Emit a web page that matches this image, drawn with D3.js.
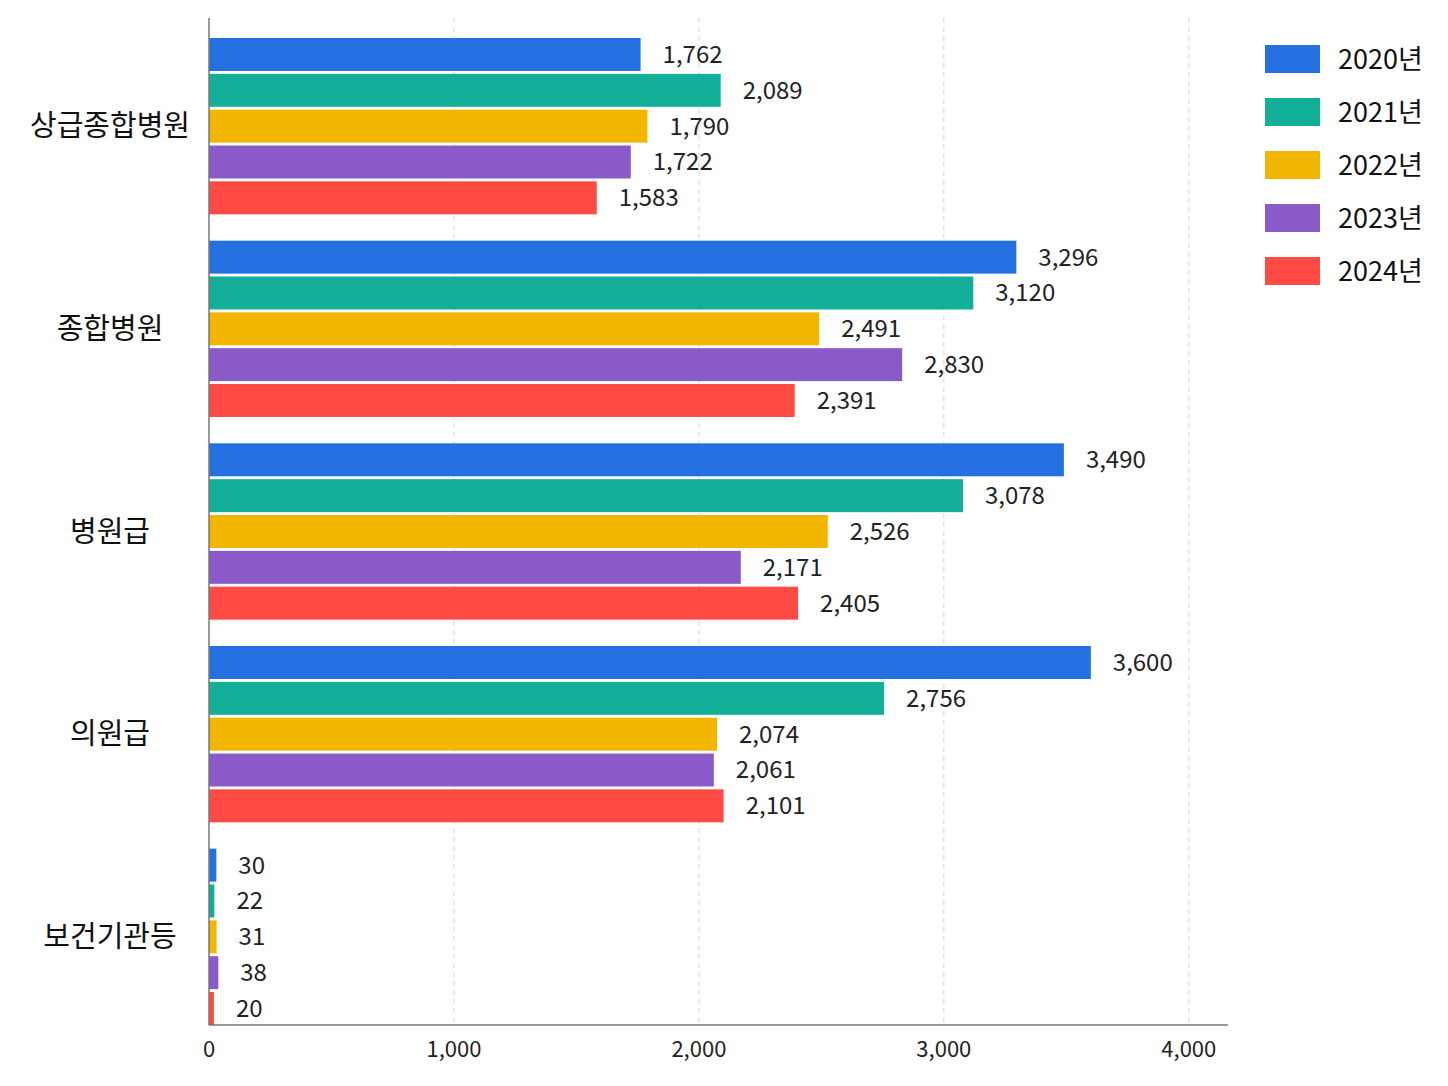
<!DOCTYPE html>
<html>
<head>
<meta charset="utf-8">
<script src="https://cdn.jsdelivr.net/npm/d3@7.9.0/dist/d3.min.js"></script>
<style>
  body { margin: 0; background: #fff; }
  svg { font-family: "Noto Sans CJK KR", "Noto Sans", sans-serif; }
</style>
</head>
<body>
<div id="chart"></div>
<script>
const categories = ['상급종합병원', '종합병원', '병원급', '의원급', '보건기관등'];
const years = ['2020년', '2021년', '2022년', '2023년', '2024년'];
const values2020 = [1762, 3296, 3490, 3600, 30];
const values2021 = [2089, 3120, 3078, 2756, 22];
const values2022 = [1790, 2491, 2526, 2074, 31];
const values2023 = [1722, 2830, 2171, 2061, 38];
const values2024 = [1583, 2391, 2405, 2101, 20];
const xTicks = [0, 1000, 2000, 3000, 4000];
const colors = ['#2470E0', '#12AE98', '#F2B500', '#8A5AC8', '#FF4B44'];

const series = [values2020, values2021, values2022, values2023, values2024];

const width = 1448;
const height = 1086;
const margin = { top: 18, right: 220, bottom: 61, left: 209 };

const svg = d3.select('#chart')
    .append('svg')
    .attr('width', width)
    .attr('height', height);

const xScale = d3.scaleLinear()
    .domain([0, 4160])
    .range([margin.left, width - margin.right]);

// groups fill from the first bar down to the axis line
const yScale = d3.scaleBand()
    .domain(categories)
    .range([margin.top + 20, height - margin.bottom])
    .paddingInner(0.13)
    .paddingOuter(0);

const ySub = d3.scaleBand()
    .domain(years)
    .range([0, yScale.bandwidth()])
    .paddingInner(0.08);

// dashed gridlines
svg.append('g')
    .attr('class', 'gridlines')
    .selectAll('line')
    .data(xTicks.filter((d) => d > 0))
    .join('line')
    .attr('x1', (d) => xScale(d))
    .attr('x2', (d) => xScale(d))
    .attr('y1', margin.top)
    .attr('y2', height - margin.bottom)
    .attr('stroke', '#d8d8d8')
    .attr('stroke-dasharray', '5,4');

// bars
const groups = svg.append('g')
    .selectAll('g')
    .data(categories)
    .join('g')
    .attr('transform', (d) => `translate(0, ${yScale(d)})`);

groups.each(function (cat, i) {
    const rows = years.map((y, j) => ({ year: y, value: series[j][i], color: colors[j] }));
    const g = d3.select(this);
    g.selectAll('rect')
        .data(rows)
        .join('rect')
        .attr('x', xScale(0))
        .attr('y', (d) => ySub(d.year))
        .attr('width', (d) => xScale(d.value) - xScale(0))
        .attr('height', ySub.bandwidth())
        .attr('fill', (d) => d.color);
    g.selectAll('text')
        .data(rows)
        .join('text')
        .attr('x', (d) => xScale(d.value) + 22)
        .attr('y', (d) => ySub(d.year) + ySub.bandwidth() / 2)
        .attr('dy', '0.35em')
        .attr('font-size', 24)
        .attr('fill', '#222')
        .text((d) => d3.format(',')(d.value));
});

// category labels
svg.append('g')
    .selectAll('text')
    .data(categories)
    .join('text')
    .attr('x', 110)
    .attr('y', (d) => yScale(d) + yScale.bandwidth() / 2)
    .attr('dy', '0.35em')
    .attr('text-anchor', 'middle')
    .attr('font-size', 29)
    .attr('fill', '#111')
    .text((d) => d);

// axes lines
svg.append('line')
    .attr('x1', margin.left).attr('x2', margin.left)
    .attr('y1', margin.top).attr('y2', height - margin.bottom)
    .attr('stroke', '#777').attr('stroke-width', 1.5);

svg.append('line')
    .attr('x1', margin.left).attr('x2', width - margin.right)
    .attr('y1', height - margin.bottom).attr('y2', height - margin.bottom)
    .attr('stroke', '#777').attr('stroke-width', 1.5);

svg.append('g')
    .selectAll('text')
    .data(xTicks)
    .join('text')
    .attr('x', (d) => xScale(d))
    .attr('y', height - margin.bottom + 24)
    .attr('dy', '0.35em')
    .attr('text-anchor', 'middle')
    .attr('font-size', 22)
    .attr('fill', '#222')
    .text((d) => d3.format(',')(d));

// legend
const legend = svg.append('g')
    .attr('transform', 'translate(1265, 45)')
    .selectAll('g')
    .data(years)
    .join('g')
    .attr('transform', (d, i) => `translate(0, ${i * 53})`);

legend.append('rect')
    .attr('width', 55)
    .attr('height', 28)
    .attr('fill', (d, i) => colors[i]);

legend.append('text')
    .attr('x', 73)
    .attr('y', 15)
    .attr('dy', '0.35em')
    .attr('font-size', 27)
    .attr('fill', '#111')
    .text((d) => d);
</script>
</body>
</html>
